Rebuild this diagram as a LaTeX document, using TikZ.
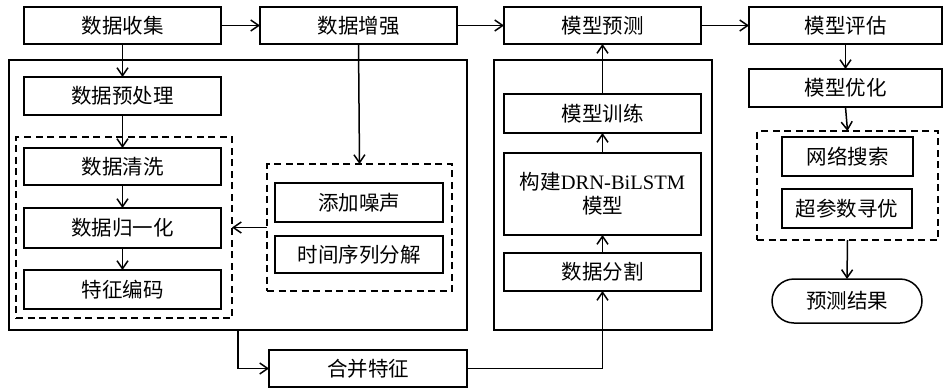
\documentclass[tikz,border=0pt]{standalone}
\usepackage{fontspec}
\setmainfont{Liberation Serif}
\newfontfamily\cjk{Noto Sans CJK SC}
\usetikzlibrary{arrows.meta}
\begin{document}
\begin{tikzpicture}[x=1pt,y=-1pt,
  every node/.style={inner sep=0pt,outer sep=0pt},
  box/.style={draw,line width=1.5pt,font=\cjk\fontsize{20.5}{24}\selectfont,align=center},
  frame/.style={draw,line width=1.5pt},
  dbox/.style={draw,line width=1.5pt,dash pattern=on 7pt off 4.5pt},
  arr/.style={line width=1.5pt,-{Straight Barb[length=8pt,width=11pt,line width=1.5pt]}},
  ln/.style={line width=1.5pt}]
\useasboundingbox (0,0) rectangle (944,391);
% containers
\node[frame,minimum width=458pt,minimum height=270pt] (bigL) at (238,195) {};
\node[frame,minimum width=218pt,minimum height=270pt] (bigM) at (603,195) {};
\node[dbox,minimum width=216pt,minimum height=181pt] (dashL) at (124,227.5) {};
\node[dbox,minimum width=185pt,minimum height=127pt] (dashR) at (359.5,227.5) {};
\node[dbox,minimum width=181pt,minimum height=109pt] (dashRR) at (847.5,185.5) {};
% top row
\node[box,minimum width=197pt,minimum height=37pt] (collect) at (122.5,25.5) {数据收集};
\node[box,minimum width=197pt,minimum height=37pt] (enhance) at (358.5,25.5) {数据增强};
\node[box,minimum width=197pt,minimum height=37pt] (predict) at (602.5,25.5) {模型预测};
\node[box,minimum width=193pt,minimum height=37pt] (evaluate) at (845.5,25.5) {模型评估};
% left column
\node[box,minimum width=197pt,minimum height=38pt] (pre) at (122.5,96) {数据预处理};
\node[box,minimum width=197pt,minimum height=37pt] (clean) at (122.5,166.5) {数据清洗};
\node[box,minimum width=197pt,minimum height=40pt] (norm) at (122.5,228) {数据归一化};
\node[box,minimum width=197pt,minimum height=39pt] (code) at (122.5,289.5) {特征编码};
\node[box,minimum width=168pt,minimum height=39pt] (noise) at (359,202.5) {添加噪声};
\node[box,minimum width=168pt,minimum height=37pt] (decomp) at (359,254.5) {时间序列分解};
\node[box,minimum width=198pt,minimum height=37pt] (merge) at (368,368.5) {合并特征};
% middle column
\node[box,minimum width=197pt,minimum height=39pt] (train) at (602.5,113.5) {模型训练};
\node[box,minimum width=197pt,minimum height=82pt] (build) at (602.5,194) {构建{\rmfamily DRN-BiLSTM}\\模型};
\node[box,minimum width=197pt,minimum height=38pt] (split) at (602.5,272) {数据分割};
% right column
\node[box,minimum width=193pt,minimum height=38pt] (optimize) at (845.5,88) {模型优化};
\node[box,minimum width=131pt,minimum height=39pt] (grid) at (847.5,156.5) {网络搜索};
\node[box,minimum width=130pt,minimum height=39pt] (hyper) at (847,208.5) {超参数寻优};
\node[box,minimum width=150pt,minimum height=44pt,rounded corners=22pt] (result) at (847,301) {预测结果};
% connectors
\draw[arr] (collect) -- (enhance);
\draw[arr] (enhance) -- (predict);
\draw[arr] (predict) -- (evaluate);
\draw[arr] (collect) -- (pre);
\draw[arr] (pre) -- (clean);
\draw[arr] (clean) -- (norm);
\draw[arr] (norm) -- (code);
\draw[arr] (enhance.south) -- (dashR.north);
\draw[arr] (dashR.west) -- (dashL.east);
\draw[arr] (bigL.south) |- (merge.west);
\draw[arr] (merge.east) -| (split.south);
\draw[arr] (split) -- (build);
\draw[arr] (build) -- (train);
\draw[arr] (train) -- (predict);
\draw[arr] (evaluate) -- (optimize);
\draw[arr] (optimize.south) -- (dashRR.north);
\draw[arr] (dashRR.south) -- (result.north);
\end{tikzpicture}
\end{document}
